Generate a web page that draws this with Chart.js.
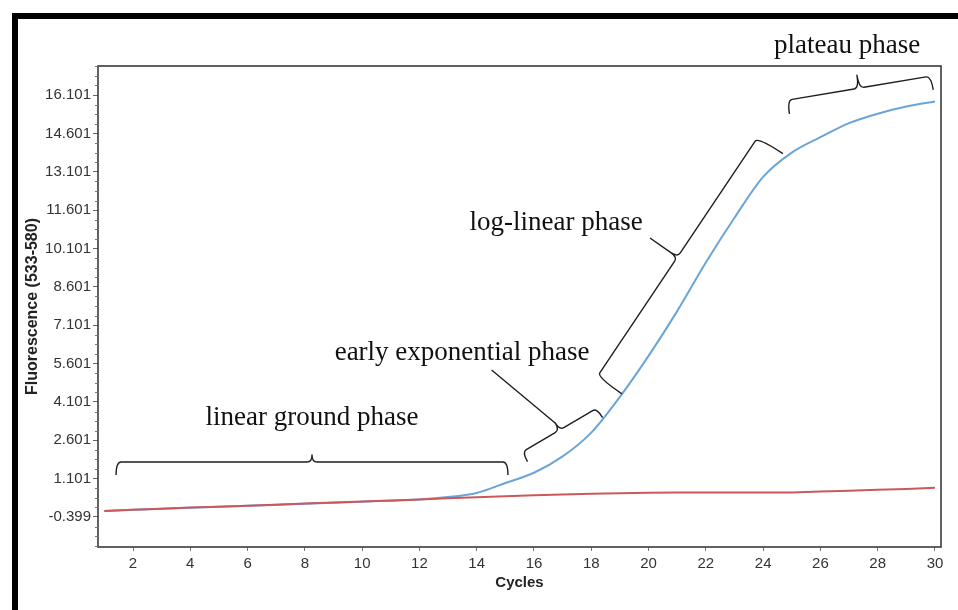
<!DOCTYPE html>
<html>
<head>
<meta charset="utf-8">
<title>Amplification curve</title>
<script src="https://cdn.jsdelivr.net/npm/chart.js@4.4.0/dist/chart.umd.min.js"></script>
<style>
  html, body { margin: 0; padding: 0; background: #fff; }
  #wrap { position: relative; width: 958px; height: 610px; overflow: hidden; }
  #frame { position: absolute; left: 12px; top: 13px; right: -10px; bottom: -10px;
           border-left: 6px solid #000; border-top: 6px solid #000; pointer-events: none; }
</style>
</head>
<body>
<div id="wrap">
  <canvas id="pcrChart" width="958" height="610"></canvas>
  <div id="frame"></div>
</div>
<script>
// Cycles et fluorescence (533-580) de l'échantillon et du témoin
var cycles = [1, 2, 3, 4, 5, 6, 7, 8, 9, 10, 11, 12, 13, 14, 15,
              16, 17, 18, 19, 20, 21, 22, 23, 24, 25, 26, 27, 28, 29, 30];
var echantillon = [-0.16, -0.12, -0.08, -0.04, 0.00, 0.04, 0.08, 0.12, 0.16, 0.20,
                   0.24, 0.29, 0.38, 0.54, 0.93, 1.33, 1.97, 2.90, 4.30, 5.90,
                   7.65, 9.55, 11.30, 12.90, 13.85, 14.45, 15.00, 15.37, 15.65, 15.85];
var temoin = [-0.16, -0.12, -0.08, -0.03, 0.00, 0.04, 0.08, 0.13, 0.17, 0.21,
              0.25, 0.29, 0.33, 0.37, 0.41, 0.45, 0.48, 0.51, 0.53, 0.55,
              0.56, 0.56, 0.56, 0.56, 0.56, 0.60, 0.63, 0.67, 0.70, 0.74];

// Graduations des axes
var yTicks = [-0.399, 1.101, 2.601, 4.101, 5.601, 7.101, 8.601, 10.101, 11.601, 13.101, 14.601, 16.101];
var xTicks = [2, 4, 6, 8, 10, 12, 14, 16, 18, 20, 22, 24, 26, 28, 30];

// Phases de l'amplification : texte, accolade (début, fin) et trait de rappel, en (cycle, fluorescence)
var phaseNoms = ['linear ground phase', 'early exponential phase', 'log-linear phase', 'plateau phase'];
var phaseTexte = [[8.25, 3.2], [13.49, 5.74], [16.77, 10.82], [26.93, 17.74]];
var accoladeDebut = [[1.41, 1.75], [15.58, 2.14], [18.2, 5.07], [24.84, 15.9]];
var accoladeFin = [[15.09, 1.75], [18.2, 3.86], [23.82, 14.46], [29.86, 16.84]];
var rappel = [null, [14.52, 5.35], [20.05, 10.51], null];

function dessinerAccolade(ctx, a, b, crochet, pointe) {
    var dx = b.x - a.x, dy = b.y - a.y, len = Math.hypot(dx, dy);
    var ux = dx / len, uy = dy / len;
    var nx = -uy, ny = ux; // vers la courbe
    var r = 5;
    var mx = (a.x + b.x) / 2, my = (a.y + b.y) / 2;
    ctx.beginPath();
    ctx.moveTo(a.x + nx * crochet, a.y + ny * crochet);
    ctx.quadraticCurveTo(a.x, a.y, a.x + ux * r, a.y + uy * r);
    ctx.lineTo(mx - ux * r, my - uy * r);
    ctx.quadraticCurveTo(mx, my, mx - nx * pointe, my - ny * pointe);
    ctx.quadraticCurveTo(mx, my, mx + ux * r, my + uy * r);
    ctx.lineTo(b.x - ux * r, b.y - uy * r);
    ctx.quadraticCurveTo(b.x, b.y, b.x + nx * crochet, b.y + ny * crochet);
    ctx.stroke();
    return {x: mx - nx * pointe, y: my - ny * pointe};
}

// Cadre du graphique et petites graduations de l'axe Y
var cadrePlugin = {
    id: 'cadre',
    afterDatasetsDraw: function(chart) {
        var ctx = chart.ctx, area = chart.chartArea, ys = chart.scales.y;
        ctx.save();
        ctx.strokeStyle = '#3a3a3a';
        ctx.lineWidth = 1.6;
        ctx.strokeRect(area.left, area.top, area.right - area.left, area.bottom - area.top);
        var pas = (yTicks[1] - yTicks[0]) / 4;
        ctx.lineWidth = 1;
        ctx.strokeStyle = '#777';
        ctx.beginPath();
        for (var v = yTicks[0] - pas; v > ys.min; v -= pas) {
            var y = Math.round(ys.getPixelForValue(v)) + 0.5;
            ctx.moveTo(area.left - 3, y); ctx.lineTo(area.left, y);
        }
        for (var i = 0; i < yTicks.length; i++) {
            for (var k = 1; k < 4; k++) {
                var val = yTicks[i] + k * pas;
                if (val >= ys.max) break;
                var yy = Math.round(ys.getPixelForValue(val)) + 0.5;
                ctx.moveTo(area.left - 3, yy); ctx.lineTo(area.left, yy);
            }
        }
        ctx.stroke();
        ctx.restore();
    }
};

// Accolades et noms des phases
var phasesPlugin = {
    id: 'phases',
    afterDraw: function(chart) {
        var ctx = chart.ctx, xs = chart.scales.x, ys = chart.scales.y;
        var px = function(p) { return {x: xs.getPixelForValue(p[0]), y: ys.getPixelForValue(p[1])}; };
        var crochets = [13, 11, 30, 14];
        var pointes = [7, 8, 8, 13];
        ctx.save();
        ctx.strokeStyle = '#1e1e1e';
        ctx.lineWidth = 1.4;
        ctx.lineJoin = 'round';
        for (var i = 0; i < phaseNoms.length; i++) {
            var sommet = dessinerAccolade(ctx, px(accoladeDebut[i]), px(accoladeFin[i]), crochets[i], pointes[i]);
            if (rappel[i]) {
                var q = px(rappel[i]);
                ctx.beginPath();
                ctx.moveTo(sommet.x, sommet.y);
                ctx.lineTo(q.x, q.y);
                ctx.stroke();
            }
            var t = px(phaseTexte[i]);
            ctx.fillStyle = '#111';
            ctx.font = '27px "Liberation Serif", "Times New Roman", serif';
            ctx.textAlign = 'center';
            ctx.textBaseline = 'alphabetic';
            ctx.fillText(phaseNoms[i], t.x, t.y);
        }
        ctx.restore();
    }
};

var ctx = document.getElementById('pcrChart').getContext('2d');
var pcrChart = new Chart(ctx, {
    type: 'line',
    data: {
        datasets: [{
            label: 'Témoin',
            data: cycles.map(function(c, i) { return {x: c, y: temoin[i]}; }),
            borderColor: 'rgb(204, 88, 90)',
            borderWidth: 2,
            pointRadius: 0,
            tension: 0
        }, {
            label: 'Échantillon',
            data: cycles.map(function(c, i) { return {x: c, y: echantillon[i]}; }),
            borderColor: 'rgb(108, 164, 214)',
            borderWidth: 2,
            pointRadius: 0,
            cubicInterpolationMode: 'monotone'
        }]
    },
    options: {
        responsive: false,
        animation: false,
        layout: { padding: { left: 0, top: 66, right: 17, bottom: 0 } },
        plugins: { legend: { display: false }, tooltip: { enabled: false } },
        scales: {
            x: {
                type: 'linear',
                min: 0.778,
                max: 30.21,
                afterBuildTicks: function(scale) {
                    scale.ticks = xTicks.map(function(v) { return {value: v}; });
                },
                afterFit: function(scale) { scale.height = 63; },
                ticks: {
                    color: '#333',
                    padding: 4,
                    maxRotation: 0,
                    font: { family: '"Liberation Sans", Arial, sans-serif', size: 15 },
                    callback: function(v) { return String(v); }
                },
                grid: { drawOnChartArea: false, tickLength: 4, tickColor: '#777' },
                border: { display: false },
                title: {
                    display: true,
                    text: 'Cycles',
                    color: '#222',
                    padding: { top: 0, bottom: 18 },
                    font: { family: '"Liberation Sans", Arial, sans-serif', size: 15, weight: 'bold' }
                }
            },
            y: {
                min: -1.572,
                max: 17.235,
                afterBuildTicks: function(scale) {
                    scale.ticks = yTicks.map(function(v) { return {value: v}; });
                },
                afterFit: function(scale) { scale.width = 98; },
                ticks: {
                    color: '#333',
                    padding: 2,
                    font: { family: '"Liberation Sans", Arial, sans-serif', size: 15 },
                    callback: function(v) { return v.toFixed(3); }
                },
                grid: { drawOnChartArea: false, tickLength: 5, tickColor: '#666' },
                border: { display: false },
                title: {
                    display: true,
                    text: 'Fluorescence (533-580)',
                    color: '#222',
                    padding: { top: 23, bottom: 0 },
                    font: { family: '"Liberation Sans", Arial, sans-serif', size: 16, weight: 'bold' }
                }
            }
        }
    },
    plugins: [cadrePlugin, phasesPlugin]
});
</script>
</body>
</html>
